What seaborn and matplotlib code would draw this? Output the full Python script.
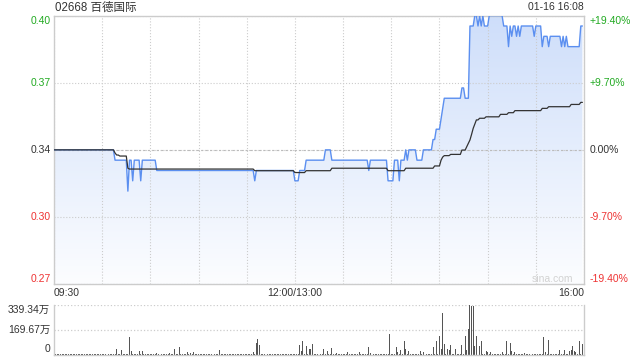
import numpy as np
import matplotlib
matplotlib.use("Agg")
import matplotlib.pyplot as plt
from matplotlib import transforms
import seaborn as sns

# ---------------- data ----------------
title = "02668 百德国际"
stamp = "01-16 16:08"
prev_close = 0.335
pct_levels = [19.40, 9.70, 0.00, -9.70, -19.40]
left_labels = ["0.40", "0.37", "0.34", "0.30", "0.27"]
right_labels = ["+19.40%", "+9.70%", "0.00%", "-9.70%", "-19.40%"]
x_labels = ["09:30", "12:00/13:00", "16:00"]
x_label_minutes = [0, 150, 330]
vol_labels = ["339.34万", "169.67万", "0"]
vol_levels = [339.34, 169.67, 0]

# minute price (run-length: value, number of minutes)
price_vals = [0.335, 0.330, 0.315, 0.330, 0.320, 0.330, 0.320, 0.330, 0.325, 0.320,
              0.325, 0.320, 0.325, 0.330, 0.335, 0.330, 0.325, 0.330, 0.320, 0.330,
              0.320, 0.330, 0.335, 0.330, 0.335, 0.330, 0.335, 0.340, 0.345, 0.350,
              0.355, 0.360, 0.365, 0.360, 0.395, 0.400, 0.395, 0.400, 0.395, 0.400,
              0.395, 0.400, 0.395, 0.385, 0.395, 0.390, 0.395, 0.390, 0.395, 0.390,
              0.395, 0.390, 0.395, 0.385, 0.390, 0.385, 0.390, 0.385, 0.390, 0.385,
              0.390, 0.385, 0.395]
price_lens = [38, 8, 1, 2, 1, 4, 1, 9, 61, 1,
              24, 3, 4, 12, 4, 23, 1, 11, 4, 3,
              1, 3, 1, 1, 5, 4, 6, 2, 3, 1,
              1, 11, 2, 3, 3, 2, 1, 1, 1, 1,
              3, 9, 3, 1, 1, 1, 2, 1, 1, 1,
              8, 1, 4, 1, 3, 1, 7, 1, 1, 1,
              1, 8, 2]

# average price line (run-length)
avg_vals = [0.3350, 0.3335, 0.3325, 0.3320, 0.3261, 0.3257, 0.3249, 0.3240, 0.3249, 0.3261,
            0.3249, 0.3261, 0.3272, 0.3300, 0.3315, 0.3322, 0.3328, 0.3349, 0.3365, 0.3380,
            0.3398, 0.3425, 0.3454, 0.3475, 0.3495, 0.3503, 0.3510, 0.3522, 0.3530, 0.3540,
            0.3551, 0.3559, 0.3570, 0.3580]
avg_lens = [38, 1, 2, 5, 1, 78, 25, 7, 16, 35,
            11, 18, 4, 1, 1, 4, 7, 3, 1, 1,
            1, 1, 1, 1, 2, 4, 9, 5, 4, 17,
            4, 14, 6, 2]

# volume per minute (万)
volume = [
    40, 4, 4, 4, 4, 4, 4, 4, 4, 4, 4, 4, 4, 4, 4, 4, 4, 4, 4, 4, 4, 4, 4, 4, 4, 4, 4, 4, 4, 4,
    4, 4, 4, 4, 4, 4, 4, 4, 4, 41, 4, 4, 30, 4, 4, 4, 4, 121, 25, 4, 4, 4, 4, 25, 4, 25, 4, 4, 4, 4,
    4, 4, 4, 4, 12, 4, 4, 4, 4, 4, 4, 4, 12, 4, 4, 41, 4, 4, 53, 4, 4, 4, 4, 18, 4, 12, 4, 18, 4, 4,
    4, 4, 4, 4, 4, 4, 4, 4, 4, 4, 4, 4, 4, 30, 4, 4, 4, 4, 4, 4, 4, 4, 4, 4, 4, 4, 4, 4, 4, 4,
    4, 4, 4, 4, 18, 4, 80, 105, 64, 4, 4, 4, 4, 4, 4, 4, 4, 4, 4, 4, 4, 4, 4, 4, 4, 4, 4, 4, 4, 4,
    4, 4, 4, 64, 25, 92, 4, 57, 4, 37, 37, 69, 4, 4, 4, 12, 4, 4, 37, 4, 25, 4, 4, 43, 4, 4, 12, 4, 4, 4,
    4, 4, 4, 18, 4, 4, 4, 4, 4, 4, 18, 4, 4, 4, 4, 4, 48, 12, 4, 4, 4, 4, 4, 4, 4, 4, 4, 4, 4, 140,
    4, 4, 4, 48, 18, 4, 30, 4, 90, 41, 4, 22, 4, 4, 4, 4, 4, 4, 22, 4, 18, 18, 4, 4, 4, 4, 50, 4, 94, 4,
    126, 41, 287, 69, 4, 41, 30, 64, 4, 4, 36, 4, 4, 4, 64, 4, 126, 30, 175, 339, 334, 334, 57, 126, 137, 57, 90, 4, 4, 22,
    18, 4, 18, 4, 4, 4, 4, 4, 4, 18, 4, 4, 94, 4, 76, 25, 4, 18, 4, 4, 4, 4, 4, 12, 4, 4, 4, 4, 4, 4,
    4, 4, 4, 4, 4, 121, 18, 4, 99, 4, 4, 4, 4, 4, 4, 30, 4, 4, 30, 4, 4, 22, 30, 57, 25, 18, 4, 94, 4, 69,
]

# ---------------- build series ----------------
price = np.repeat(price_vals, price_lens)
avg = np.repeat(avg_vals, avg_lens)
vol = np.array(volume, dtype=float)
n = min(len(price), len(avg), len(vol))
price, avg, vol = price[:n], avg[:n], vol[:n]
minutes = np.arange(n)

levels = [prev_close * (1 + p / 100) for p in pct_levels]
ymin, ymax = levels[-1], levels[0]
total_minutes = 330

GREEN, RED, DARK = "#22aa22", "#ee3333", "#333333"
label_colors = [GREEN, GREEN, DARK, RED, RED]
GRID = "#cccccc"

sns.set_theme(style="white")
plt.rcParams["font.family"] = ["Liberation Sans", "Noto Sans CJK SC", "DejaVu Sans"]

fig = plt.figure(figsize=(6.4, 3.6), dpi=100)
ax = fig.add_axes([54 / 640, 1 - 284 / 360, 530 / 640, 268.3 / 360])
axv = fig.add_axes([54 / 640, 1 - 354.5 / 360, 530 / 640, 49.5 / 360])

# gradient area under the price line
top_c = np.array([206, 222, 250]) / 255.0
bot_c = np.array([252, 253, 255]) / 255.0
g = np.linspace(0, 1, 256)[:, None, None]
img = top_c[None, None, :] * (1 - g) + bot_c[None, None, :] * g
im = ax.imshow(img, extent=[0, total_minutes, ymin, ymax], aspect="auto",
               origin="upper", zorder=1, interpolation="bilinear")
poly = ax.fill_between(minutes, price, ymin, facecolor="none", edgecolor="none")
im.set_clip_path(poly.get_paths()[0], transform=ax.transData)

sns.lineplot(x=minutes, y=price, ax=ax, color="#5b8ff0", lw=1.0, zorder=4)
sns.lineplot(x=minutes, y=avg, ax=ax, color="#333333", lw=0.9, zorder=5)

ax.set_xlim(0, total_minutes)
ax.set_ylim(ymin, ymax)
ax.set_xticks(range(0, total_minutes + 1, 30))
ax.set_yticks(levels)
ax.set_axisbelow(False)
ax.grid(True, linestyle=":", color=GRID, lw=0.8, zorder=2.5)
ax.axhline(prev_close, color="#bbbbbb", lw=0.8, ls=(0, (2, 2)), zorder=2.6)
ax.tick_params(left=False, bottom=False, labelleft=False, labelbottom=False)
ax.set_xlabel("")
ax.set_ylabel("")
for s in ax.spines.values():
    s.set_color(GRID)
    s.set_linewidth(1.0)

fs = 7.5
ytr = transforms.blended_transform_factory(ax.transAxes, ax.transData)
left_off = transforms.ScaledTranslation(-3 / 100, 0, fig.dpi_scale_trans)
right_off = transforms.ScaledTranslation(6 / 100, 0, fig.dpi_scale_trans)
for i, (lv, ll, rl, c) in enumerate(zip(levels, left_labels, right_labels, label_colors)):
    va = "top" if i == 0 else ("bottom" if i == len(levels) - 1 else "center")
    ax.text(0, lv, ll, transform=ytr + left_off, ha="right", va=va, color=c, fontsize=fs)
    ax.text(1, lv, rl, transform=ytr + right_off, ha="left", va=va, color=c, fontsize=fs)

xtr = transforms.blended_transform_factory(ax.transData, ax.transAxes)
down_off = transforms.ScaledTranslation(0, -9 / 100, fig.dpi_scale_trans)
for m, lab, ha in zip(x_label_minutes, x_labels, ["left", "center", "right"]):
    ax.text(m, 0, lab, transform=xtr + down_off, ha=ha, va="center", color=DARK, fontsize=fs)

ax.text(0.979, 0.019, "sina.com", transform=ax.transAxes, ha="right", va="center",
        color="#d2d2d2", fontsize=fs)

fig.text(55 / 640, 1 - 7.5 / 360, title, ha="left", va="center", color=DARK, fontsize=8.3)
fig.text(584 / 640, 1 - 7.5 / 360, stamp, ha="right", va="center", color=DARK, fontsize=fs)

# volume panel
sns.barplot(x=minutes, y=vol, native_scale=True, width=0.6, color="#555555",
            saturation=1, errorbar=None, linewidth=0, ax=axv)
axv.set_xlim(0, total_minutes)
axv.set_ylim(0, vol_levels[0])
axv.set_yticks(vol_levels[:2])
axv.grid(True, axis="y", linestyle=":", color=GRID, lw=0.9)
axv.grid(False, axis="x")
axv.tick_params(left=False, bottom=False, labelleft=False, labelbottom=False)
axv.set_xlabel("")
axv.set_ylabel("")
axv.spines["top"].set_visible(False)
for k in ["left", "right", "bottom"]:
    axv.spines[k].set_color(GRID)
    axv.spines[k].set_linewidth(1.0)

vtr = transforms.blended_transform_factory(axv.transAxes, axv.transData)
voff = transforms.ScaledTranslation(-4 / 100, 0, fig.dpi_scale_trans)
for i, (lv, lab) in enumerate(zip(vol_levels, vol_labels)):
    va = "top" if i == 0 else ("bottom" if i == len(vol_levels) - 1 else "center")
    axv.text(0, lv, lab, transform=vtr + voff, ha="right", va=va, color=DARK, fontsize=fs)

fig.savefig("out.png", dpi=100)
